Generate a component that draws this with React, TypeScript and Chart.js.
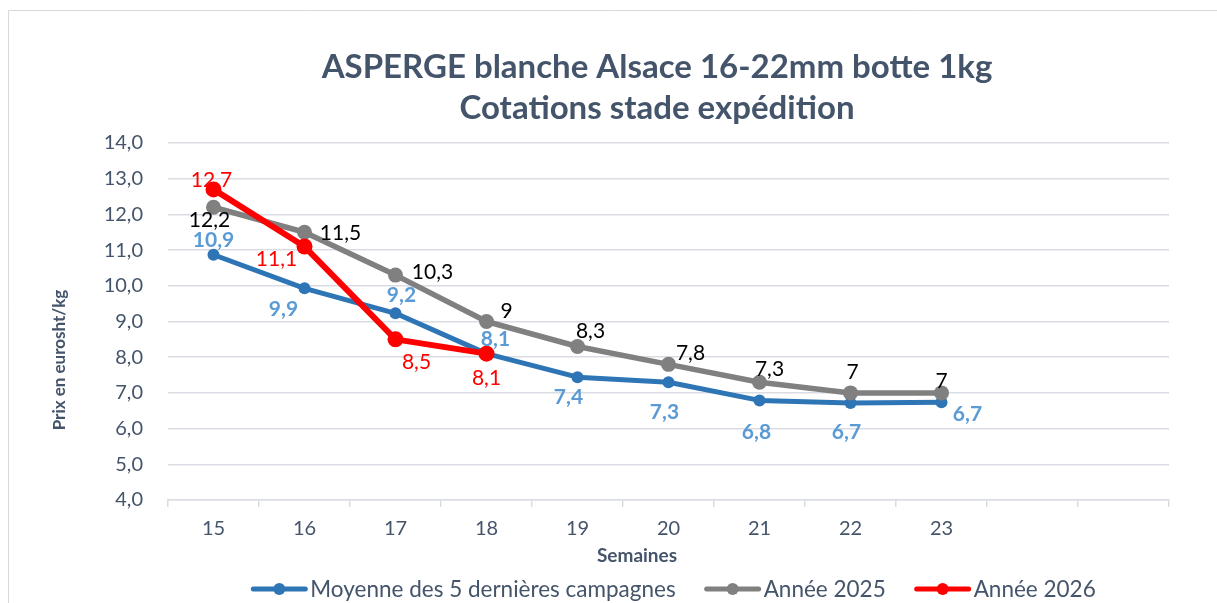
import React, { useEffect, useRef } from 'react';
import { Chart, registerables } from 'chart.js';

Chart.register(...registerables);

// ---------- data ----------
const weeks = ['15', '16', '17', '18', '19', '20', '21', '22', '23', '', ''];
const moyenne5Campagnes = [10.87, 9.93, 9.23, 8.1, 7.44, 7.3, 6.79, 6.72, 6.74];
const annee2025 = [12.2, 11.5, 10.3, 9, 8.3, 7.8, 7.3, 7, 7];
const annee2026 = [12.7, 11.1, 8.5, 8.1];
const seriesNames = ['Moyenne des 5 dernières campagnes', 'Année 2025', 'Année 2026'];
const yMin = 4;
const yMax = 14;
const yStep = 1;
const titleLines = ['ASPERGE blanche Alsace 16-22mm botte 1kg', 'Cotations stade expédition'];
const xTitle = 'Semaines';
const yTitle = 'Prix en eurosht/kg';

// ---------- style ----------
const FONT = 'Lato';
const SLATE = '#44546a';
const GRID = '#d9dde3';
const BLUE = '#2e75b6';
const GREY = '#808080';
const RED = '#ff0000';

// label placement (pixel offsets relative to each point), style only
const labelStyles = [
  { color: '#5b9bd5', bold: true, fmt: (v: number) => v.toFixed(1).replace('.', ','),
    off: [[0, -15], [-21, 21], [6, -18], [9, -14], [-9, 20], [-4, 30], [-3, 32], [-4, 29], [26, 12]] },
  { color: '#000000', bold: false, fmt: (v: number) => String(v).replace('.', ','),
    off: [[-4, 13], [36, 1], [37, -3], [20, -10], [13, -15], [22, -11], [10, -13], [2, -21], [0, -12]] },
  { color: RED, bold: false, fmt: (v: number) => String(v).replace('.', ','),
    off: [[-2, -9], [-28, 13], [21, 23], [0, 25]] },
];

const decor = {
  id: 'decor',
  beforeDraw(chart: any) {
    const ctx = chart.ctx;
    ctx.save();
    ctx.fillStyle = '#ffffff';
    ctx.fillRect(0, 0, chart.width, chart.height);
    ctx.strokeStyle = '#d9d9d9';
    ctx.lineWidth = 1;
    ctx.beginPath();
    ctx.moveTo(8.5, chart.height);
    ctx.lineTo(8.5, 10.5);
    ctx.lineTo(chart.width, 10.5);
    ctx.stroke();
    ctx.restore();
  },
  afterDatasetsDraw(chart: any) {
    const ctx = chart.ctx;
    ctx.save();
    ctx.textAlign = 'center';
    ctx.textBaseline = 'middle';
    chart.data.datasets.forEach((ds: any, di: number) => {
      const st = labelStyles[di];
      const meta = chart.getDatasetMeta(di);
      ctx.font = `${st.bold ? 'bold ' : ''}21px ${FONT}`;
      ctx.fillStyle = st.color;
      meta.data.forEach((pt: any, i: number) => {
        const v = ds.data[i];
        if (v == null) return;
        const o = st.off[i] || [0, -15];
        ctx.fillText(st.fmt(v), pt.x + o[0], pt.y + o[1]);
      });
    });
    ctx.restore();
  },
  afterDraw(chart: any) {
    const ctx = chart.ctx;
    ctx.save();
    // title
    ctx.fillStyle = SLATE;
    ctx.textAlign = 'center';
    ctx.textBaseline = 'middle';
    ctx.font = `bold 33px ${FONT}`;
    ctx.fillText(titleLines[0], 657, 67);
    ctx.fillText(titleLines[1], 657, 108);
    // x title
    ctx.font = `bold 19px ${FONT}`;
    ctx.fillText(xTitle, 637, 556);
    // y title
    ctx.save();
    ctx.translate(60, 360);
    ctx.rotate(-Math.PI / 2);
    ctx.font = `bold 17px ${FONT}`;
    ctx.fillText(yTitle, 0, 0);
    ctx.restore();
    // legend
    ctx.font = `22.5px ${FONT}`;
    const lineW = 58;
    const gapText = 2;
    const gapItem = 28;
    const colors = [BLUE, GREY, RED];
    const widths = seriesNames.map((n) => lineW + gapText + ctx.measureText(n).width);
    const total = widths.reduce((a, b) => a + b, 0) + gapItem * (widths.length - 1);
    let x = 673 - total / 2;
    const y = 589;
    seriesNames.forEach((n, i) => {
      ctx.strokeStyle = colors[i];
      ctx.lineWidth = 5;
      ctx.lineCap = 'round';
      ctx.beginPath();
      ctx.moveTo(x + 3, y);
      ctx.lineTo(x + lineW - 3, y);
      ctx.stroke();
      ctx.fillStyle = colors[i];
      ctx.beginPath();
      ctx.arc(x + lineW / 2, y, 6, 0, Math.PI * 2);
      ctx.fill();
      ctx.fillStyle = SLATE;
      ctx.textAlign = 'left';
      ctx.fillText(n, x + lineW + gapText, y + 1);
      x += widths[i] + gapItem;
    });
    ctx.restore();
  },
};

export default function App() {
  const ref = useRef<HTMLCanvasElement | null>(null);
  useEffect(() => {
    if (!ref.current) return;
    const chart = new Chart(ref.current, {
      type: 'line',
      data: {
        labels: weeks,
        datasets: [
          {
            label: seriesNames[0],
            data: moyenne5Campagnes,
            borderColor: BLUE,
            backgroundColor: BLUE,
            borderWidth: 5,
            pointRadius: 6,
            pointHoverRadius: 6,
            pointBorderWidth: 0,
            tension: 0,
            order: 3,
          },
          {
            label: seriesNames[1],
            data: annee2025,
            borderColor: GREY,
            backgroundColor: GREY,
            borderWidth: 5.5,
            pointRadius: 7.5,
            pointHoverRadius: 7.5,
            pointBorderWidth: 0,
            tension: 0,
            order: 2,
          },
          {
            label: seriesNames[2],
            data: annee2026,
            borderColor: RED,
            backgroundColor: RED,
            borderWidth: 6,
            pointRadius: 8,
            pointHoverRadius: 8,
            pointBorderWidth: 0,
            tension: 0,
            order: 1,
          },
        ],
      },
      options: {
        responsive: false,
        animation: false,
        devicePixelRatio: 1,
        layout: { padding: { top: 143, right: 48, left: 0, bottom: 0 } },
        plugins: { legend: { display: false }, title: { display: false }, tooltip: { enabled: false } },
        elements: { line: { borderJoinStyle: 'round', borderCapStyle: 'round' } },
        scales: {
          x: {
            type: 'category',
            offset: true,
            afterFit: (s: any) => { s.height = 103; },
            grid: { offset: true, drawOnChartArea: false, color: GRID, lineWidth: 1.5, tickLength: 7 },
            border: { display: true, color: GRID, width: 1.5 },
            ticks: { color: SLATE, font: { family: FONT, size: 20 }, padding: 10, maxRotation: 0, autoSkip: false },
          },
          y: {
            min: yMin,
            max: yMax,
            afterFit: (s: any) => { s.width = 168; },
            grid: { color: GRID, lineWidth: 1.5, drawTicks: false },
            border: { display: false },
            ticks: {
              stepSize: yStep,
              color: SLATE,
              padding: 25,
              font: { family: FONT, size: 20 },
              callback: (v: any) => Number(v).toFixed(1).replace('.', ','),
            },
          },
        },
      },
      plugins: [decor],
    });
    return () => chart.destroy();
  }, []);
  return (
    <>
      <style>{`html,body{margin:0;padding:0;overflow:hidden;background:#fff}`}</style>
      <canvas ref={ref} width={1217} height={603} style={{ display: 'block', width: 1217, height: 603 }} />
    </>
  );
}
